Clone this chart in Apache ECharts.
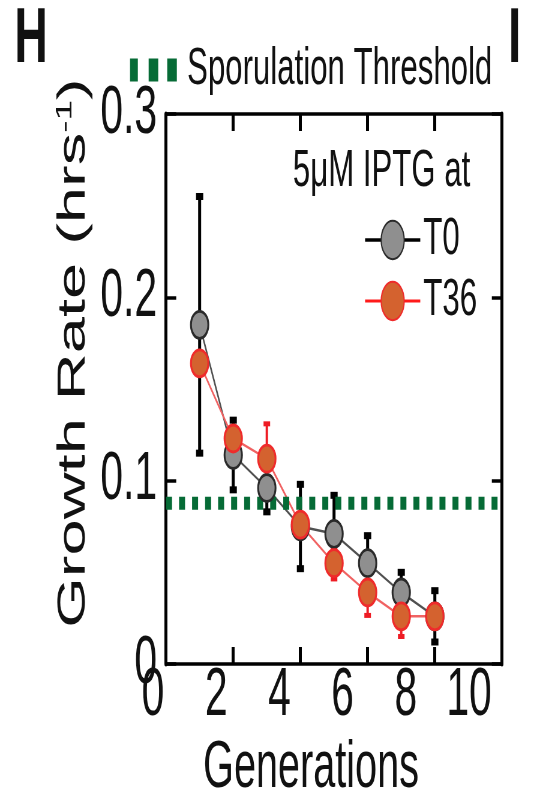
<!DOCTYPE html>
<html>
<head>
<meta charset="utf-8">
<script src="https://cdn.jsdelivr.net/npm/echarts@6/dist/echarts.min.js"></script>
<style>
html, body { margin:0; padding:0; overflow:hidden; background:#fff; width:558px; height:807px; }
#main { width:930px; height:807px; transform:scaleX(0.6); transform-origin:0 0; }
</style>
</head>
<body>
<div id="main"></div>
<script>
// ---- data ----
var generations = [1, 2, 3, 4, 5, 6, 7, 8];
var t0Values   = [0.185, 0.114, 0.096, 0.075, 0.071, 0.055, 0.039, 0.026];
var t0Errors   = [0.070, 0.019, 0.013, 0.023, 0.021, 0.015, 0.011, 0.014];
var t36Values  = [0.164, 0.123, 0.112, 0.076, 0.055, 0.039, 0.026, 0.026];
var t36Errors  = [0.005, 0.006, 0.019, 0.006, 0.0086, 0.0125, 0.011, 0.005];
var thresholdValue = 0.0877;
var thresholdRange = [0, 10];
var xTickLabels = ['0', '2', '4', '6', '8', '10'];
var yTickLabels = ['0', '0.1', '0.2', '0.3'];

var FONT = 'Liberation Sans';
var chart = echarts.init(document.getElementById('main'));

function errData(vals, errs) {
  return generations.map(function (g, i) { return [g, vals[i], errs[i]]; });
}
function errRender(color, stemW, capW, capH) {
  return function (params, api) {
    var x = api.value(0), y = api.value(1), e = api.value(2);
    var top = api.coord([x, y + e]);
    var bot = api.coord([x, y - e]);
    return {
      type: 'group',
      children: [
        { type: 'line', shape: { x1: top[0], y1: top[1], x2: bot[0], y2: bot[1] },
          style: { stroke: color, lineWidth: stemW } },
        { type: 'rect', shape: { x: top[0] - capW / 2, y: top[1] - capH / 2, width: capW, height: capH },
          style: { fill: color } },
        { type: 'rect', shape: { x: bot[0] - capW / 2, y: bot[1] - capH / 2, width: capW, height: capH },
          style: { fill: color } }
      ]
    };
  };
}

var boxLine = function (w) { return { onZero: false, lineStyle: { color: '#000', width: w } }; };

var option = {
  animation: false,
  textStyle: { fontFamily: FONT },
  title: {
    text: '5\u03bcM IPTG at',
    left: 488, top: 146,
    padding: 0,
    textStyle: { fontSize: 52, fontWeight: 'normal', color: '#111', fontFamily: FONT }
  },
  graphic: [
    { type: 'text', left: 24, top: 2, style: { text: 'H', font: 'bold 77px ' + FONT, fill: '#111' } },
    { type: 'text', left: 847, top: 2, style: { text: 'I', font: 'bold 77px ' + FONT, fill: '#111' } }
  ],
  legend: [
    {
      data: ['Sporulation Threshold'],
      left: 216.7, top: 44, padding: 0,
      icon: 'path://M0,0h13v23h-13z M31,0h16v23h-16z M62,0h16v23h-16z',
      itemWidth: 78, itemHeight: 23,
      textStyle: { fontSize: 52, color: '#111', fontFamily: FONT, padding: [0, 0, 0, 12] }
    },
    {
      data: [
        { name: 'T0', lineStyle: { color: '#000', width: 3.5 } },
        { name: 'T36', lineStyle: { color: '#ff1a1a', width: 3 } }
      ],
      orient: 'vertical',
      left: 606.7, top: 214, padding: 0,
      itemWidth: 92, itemHeight: 48, itemGap: 9,
      textStyle: { fontSize: 52, color: '#111', fontFamily: FONT }
    }
  ],
  grid: [
    { left: 276.7, right: 93.3, top: 114, bottom: 143 },
    { left: 255, right: 148.3, top: 114, bottom: 143 }
  ],
  xAxis: [
    {
      gridIndex: 0, type: 'value', min: 0, max: 10, interval: 2, position: 'bottom',
      axisLine: boxLine(3.5),
      axisTick: { inside: true, length: 17, lineStyle: { color: '#000', width: 5 } },
      axisLabel: { show: false }, splitLine: { show: false }
    },
    {
      gridIndex: 0, type: 'value', min: 0, max: 10, interval: 2, position: 'top',
      axisLine: boxLine(3.5),
      axisTick: { inside: true, length: 17, lineStyle: { color: '#000', width: 5 } },
      axisLabel: { show: false }, splitLine: { show: false }
    },
    {
      gridIndex: 1, type: 'value', min: 0, max: 10, interval: 2, position: 'bottom',
      axisLine: { show: false, onZero: false }, axisTick: { show: false }, splitLine: { show: false },
      axisLabel: {
        margin: 0, fontSize: 68, color: '#111', fontFamily: FONT,
        formatter: function (v) { return xTickLabels[Math.round(v / 2)]; }
      },
      name: 'Generations', nameLocation: 'middle', nameGap: 74,
      nameTextStyle: { fontSize: 66, color: '#111', fontFamily: FONT }
    }
  ],
  yAxis: [
    {
      gridIndex: 0, type: 'value', min: 0, max: 0.3, interval: 0.1, position: 'left',
      axisLine: boxLine(5),
      axisTick: { inside: true, length: 17, lineStyle: { color: '#000', width: 3.5 } },
      splitLine: { show: false },
      axisLabel: {
        margin: 15, fontSize: 68, color: '#111', fontFamily: FONT,
        formatter: function (v) { return yTickLabels[Math.round(v * 10)]; }
      },
      name: 'Growth Rate (hrs{sup|-1})', nameLocation: 'middle', nameGap: 121,
      nameTextStyle: {
        fontSize: 65, color: '#111', fontFamily: FONT, padding: [0, 0, 0, 72],
        rich: { sup: { fontSize: 37, verticalAlign: 'top', color: '#111', fontFamily: FONT } }
      }
    },
    {
      gridIndex: 0, type: 'value', min: 0, max: 0.3, interval: 0.1, position: 'right',
      axisLine: boxLine(5),
      axisTick: { inside: true, length: 17, lineStyle: { color: '#000', width: 3.5 } },
      axisLabel: { show: false }, splitLine: { show: false }
    },
    { gridIndex: 1, type: 'value', min: 0, max: 0.3, show: false }
  ],
  series: [
    {
      name: 'T0 error', type: 'custom', xAxisIndex: 0, yAxisIndex: 0,
      renderItem: errRender('#000', 5, 12, 7),
      data: errData(t0Values, t0Errors)
    },
    {
      name: 'T0', type: 'line', xAxisIndex: 0, yAxisIndex: 0,
      data: generations.map(function (g, i) { return [g, t0Values[i]]; }),
      symbol: 'circle', symbolSize: [29, 27],
      itemStyle: { color: '#8f8f8f', borderColor: '#2a2a2a', borderWidth: 3 },
      lineStyle: { color: '#505050', width: 2.5 }
    },
    {
      name: 'T36 error', type: 'custom', xAxisIndex: 0, yAxisIndex: 0,
      renderItem: errRender('#ee1c24', 4, 11, 5),
      data: errData(t36Values, t36Errors)
    },
    {
      name: 'T36', type: 'line', xAxisIndex: 0, yAxisIndex: 0,
      data: generations.map(function (g, i) { return [g, t36Values[i]]; }),
      symbol: 'circle', symbolSize: [29, 27],
      itemStyle: { color: '#d4622f', borderColor: '#ef2b2b', borderWidth: 3 },
      lineStyle: { color: '#f06262', width: 2.5 }
    },
    {
      name: 'Sporulation Threshold', type: 'line', xAxisIndex: 0, yAxisIndex: 0,
      data: thresholdRange.map(function (x) { return [x, thresholdValue]; }),
      symbol: 'none',
      itemStyle: { color: '#066b36' },
      lineStyle: { color: '#066b36', width: 13, type: [10, 11.7], cap: 'butt' }
    }
  ]
};
chart.setOption(option);
</script>
</body>
</html>
